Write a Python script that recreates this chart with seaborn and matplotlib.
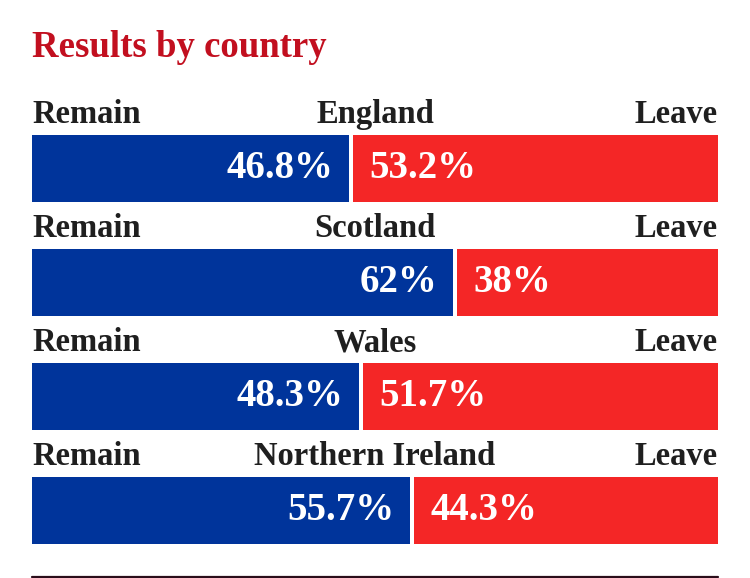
import matplotlib
matplotlib.use("Agg")
import matplotlib.pyplot as plt
import seaborn as sns
import pandas as pd
from matplotlib.lines import Line2D

countries = ["England", "Scotland", "Wales", "Northern Ireland"]
remain = [46.8, 62.0, 48.3, 55.7]
leave = [53.2, 38.0, 51.7, 44.3]
remain_labels = ["46.8%", "62%", "48.3%", "55.7%"]
leave_labels = ["53.2%", "38%", "51.7%", "44.3%"]
title = "Results by country"

BLUE = "#00349b"
RED = "#f42626"
TITLE_RED = "#c20f1f"
DARK = "#1f1f1f"
GAP = 4 / 6.86  # white gap in data units (4 px)
FONT = ["Liberation Serif", "DejaVu Serif"]

sns.set_theme(style="white")
plt.rcParams["font.family"] = FONT

df = pd.DataFrame({"country": countries, "remain": remain, "leave": leave})
df["remain_bar"] = df["remain"] - GAP

fig = plt.figure(figsize=(7.5, 5.78), dpi=100)
ax = fig.add_axes([32 / 750, 1 - 567.5 / 578, 686 / 750, 456 / 578])

bw = 67 / 114
sns.barplot(data=df, x="remain_bar", y="country", orient="h", color=BLUE,
            saturation=1, width=bw, linewidth=0, ax=ax)
ypos = list(range(len(countries)))
ax.barh(ypos, df["leave"], left=df["remain"], height=bw, color=RED, linewidth=0)

ax.set_xlim(0, 100)
ax.set_ylim(3.5, -0.5)
ax.axis("off")

for i, c in enumerate(countries):
    ly = i - 0.399
    ax.text(0, ly, "Remain", ha="left", va="baseline", fontsize=23.5,
            fontweight="bold", color=DARK)
    ax.text(50, ly, c, ha="center", va="baseline", fontsize=23.5,
            fontweight="bold", color=DARK)
    ax.text(100, ly, "Leave", ha="right", va="baseline", fontsize=23.5,
            fontweight="bold", color=DARK)
    vy = i + 0.083
    ax.annotate(remain_labels[i], xy=(remain[i] - GAP, vy), xytext=(-11.5, 0),
                textcoords="offset points", ha="right", va="baseline",
                fontsize=28, fontweight="bold", color="white")
    ax.annotate(leave_labels[i], xy=(remain[i], vy), xytext=(11.5, 0),
                textcoords="offset points", ha="left", va="baseline",
                fontsize=28, fontweight="bold", color="white")

fig.text(32 / 750, 1 - 57 / 578, title, ha="left", va="baseline",
         fontsize=26.5, fontweight="bold", color=TITLE_RED)

fig.add_artist(Line2D([32 / 750, 718 / 750], [1 - 576.8 / 578] * 2,
                      color="#2b0d1a", linewidth=1.6))

fig.savefig("out.png", dpi=100)
